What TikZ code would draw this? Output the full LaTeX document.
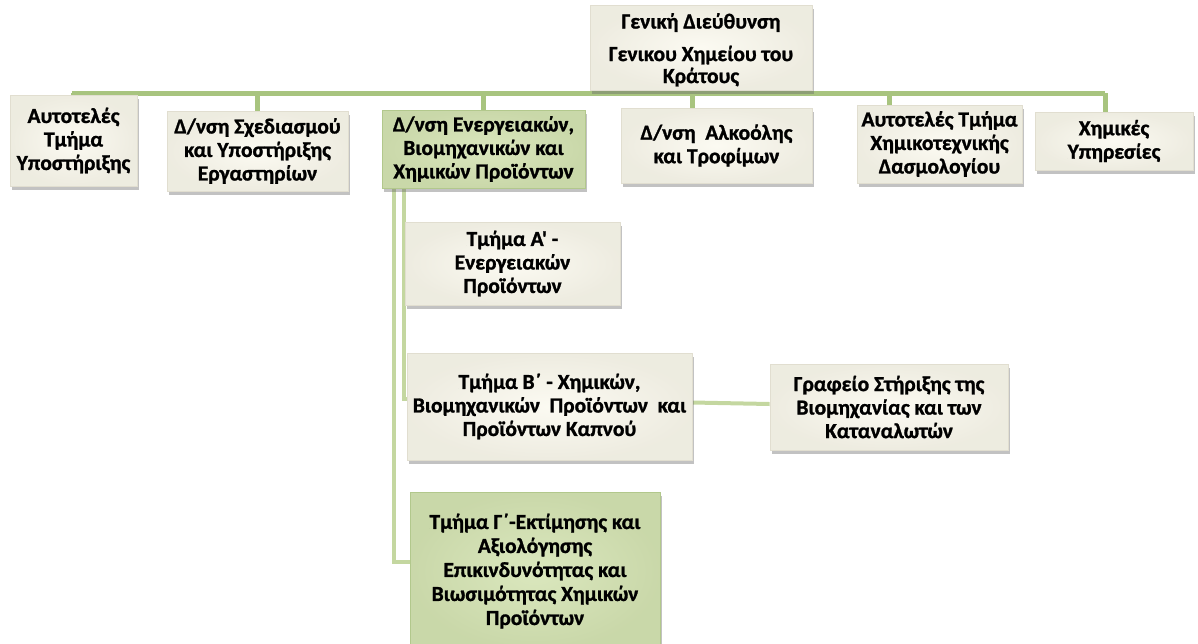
\documentclass[tikz,border=0pt]{standalone}
\usepackage{fontspec}
\setmainfont{Carlito}[Ligatures=TeXOff, BoldFont={Carlito Bold}, BoldFeatures={FakeBold=1.2}]
\usetikzlibrary{shadows,backgrounds}
\definecolor{cream}{RGB}{250,248,236}
\definecolor{creamedge}{RGB}{225,222,208}
\definecolor{leaf}{RGB}{212,227,178}
\definecolor{leafedge}{RGB}{178,200,140}
\definecolor{busgreen}{RGB}{168,196,127}
\definecolor{subgreen}{RGB}{196,215,160}
\begin{document}
\begin{tikzpicture}[x=1pt,y=-1pt,
  unit/.style={rectangle, draw=creamedge, line width=0.8pt,
    inner color=cream!70!white, outer color=cream!95!black,
    drop shadow={shadow xshift=2pt, shadow yshift=-4pt, opacity=0.4, fill=black!60},
    align=center, text=black,
    font=\color{black}\bfseries\fontsize{21.5}{23.5}\selectfont, inner sep=2pt},
  hilite/.style={unit, draw=leafedge, inner color=leaf!85!white, outer color=leaf!95!black},
  bus/.style={draw=busgreen, line width=5pt},
  sub/.style={draw=subgreen, line width=4pt}]
\useasboundingbox (0,0) rectangle (1198,643);

% ends of the top bus line
\coordinate (busL) at (72,93);
\coordinate (busR) at (1105,93);

% boxes
\node[unit, minimum width=222pt, minimum height=85pt] (gen) at (701,47.5)
  {\rule{0pt}{20pt}Γενική Διεύθυνση\\[9pt]Γενικου Χημείου του\\[-1.5pt]Κράτους};
\node[unit, minimum width=127pt, minimum height=91pt] (aut) at (73.5,140.5)
  {Αυτοτελές\\Τμήμα\\Υποστήριξης};
\node[unit, minimum width=181pt, minimum height=80pt] (sxed) at (257.5,151)
  {Δ/νση Σχεδιασμού\\και Υποστήριξης\\Εργαστηρίων};
\node[hilite, minimum width=203pt, minimum height=78pt] (ener) at (483.5,149)
  {Δ/νση Ενεργειακών,\\Βιομηχανικών και\\Χημικών Προϊόντων};
\node[unit, minimum width=191pt, minimum height=75pt] (alc) at (716.5,145.5)
  {Δ/νση~ Αλκοόλης\\και Τροφίμων};
\node[unit, minimum width=165pt, minimum height=78pt] (xte) at (939.5,144)
  {Αυτοτελές Τμήμα\\Χημικοτεχνικής\\Δασμολογίου};
\node[unit, minimum width=158pt, minimum height=58pt] (xyp) at (1114,141)
  {Χημικές\\Υπηρεσίες};
\node[unit, minimum width=215pt, minimum height=83pt] (ta) at (512.5,263.5)
  {Τμήμα Α' -\\Ενεργειακών\\Προϊόντων};
\node[unit, minimum width=285pt, minimum height=107pt] (tb) at (549.5,406.5)
  {Τμήμα Β΄ - Χημικών,\\Βιομηχανικών~ Προϊόντων~ και\\Προϊόντων Καπνού};
\node[unit, minimum width=238pt, minimum height=86pt] (graf) at (889,407)
  {Γραφείο Στήριξης της\\Βιομηχανίας και των\\Καταναλωτών};
\node[hilite, minimum width=250pt, minimum height=158pt,
      font=\color{black}\bfseries\fontsize{21.5}{24}\selectfont] (tg) at (535,571)
  {Τμήμα Γ΄-Εκτίμησης και\\Αξιολόγησης\\Επικινδυνότητας και\\Βιωσιμότητας Χημικών\\Προϊόντων};

% connectors drawn behind the boxes
\begin{scope}[on background layer]
  \draw[bus] (busL) -- (busR);
  \draw[bus] (aut.north) -- (aut.north |- busL);
  \draw[bus] (sxed.north) -- (sxed.north |- busL);
  \draw[bus] (ener.north) -- (ener.north |- busL);
  \draw[bus] (gen.south -| 692,0) -- ([xshift=-24.5pt]alc.north);
  \draw[bus] ([xshift=-50.5pt]xte.north) -- ([xshift=-50.5pt]xte.north |- busL);
  \draw[bus] ([xshift=-9pt]xyp.north) -- ([xshift=-9pt]xyp.north |- busR);
  % branches below the energy directorate
  \draw[sub] ([xshift=-80pt]ener.south) |- ([yshift=4pt]ta.west);
  \draw[sub] ([xshift=-80pt]ener.south) |- ([yshift=8pt]tb.west);
  \draw[sub] ([xshift=-90pt]ener.south) |- ([yshift=9pt]tg.west);
  \draw[sub] ([yshift=4pt]tb.east) -- ([yshift=3pt]graf.west);
\end{scope}
\end{tikzpicture}
\end{document}
